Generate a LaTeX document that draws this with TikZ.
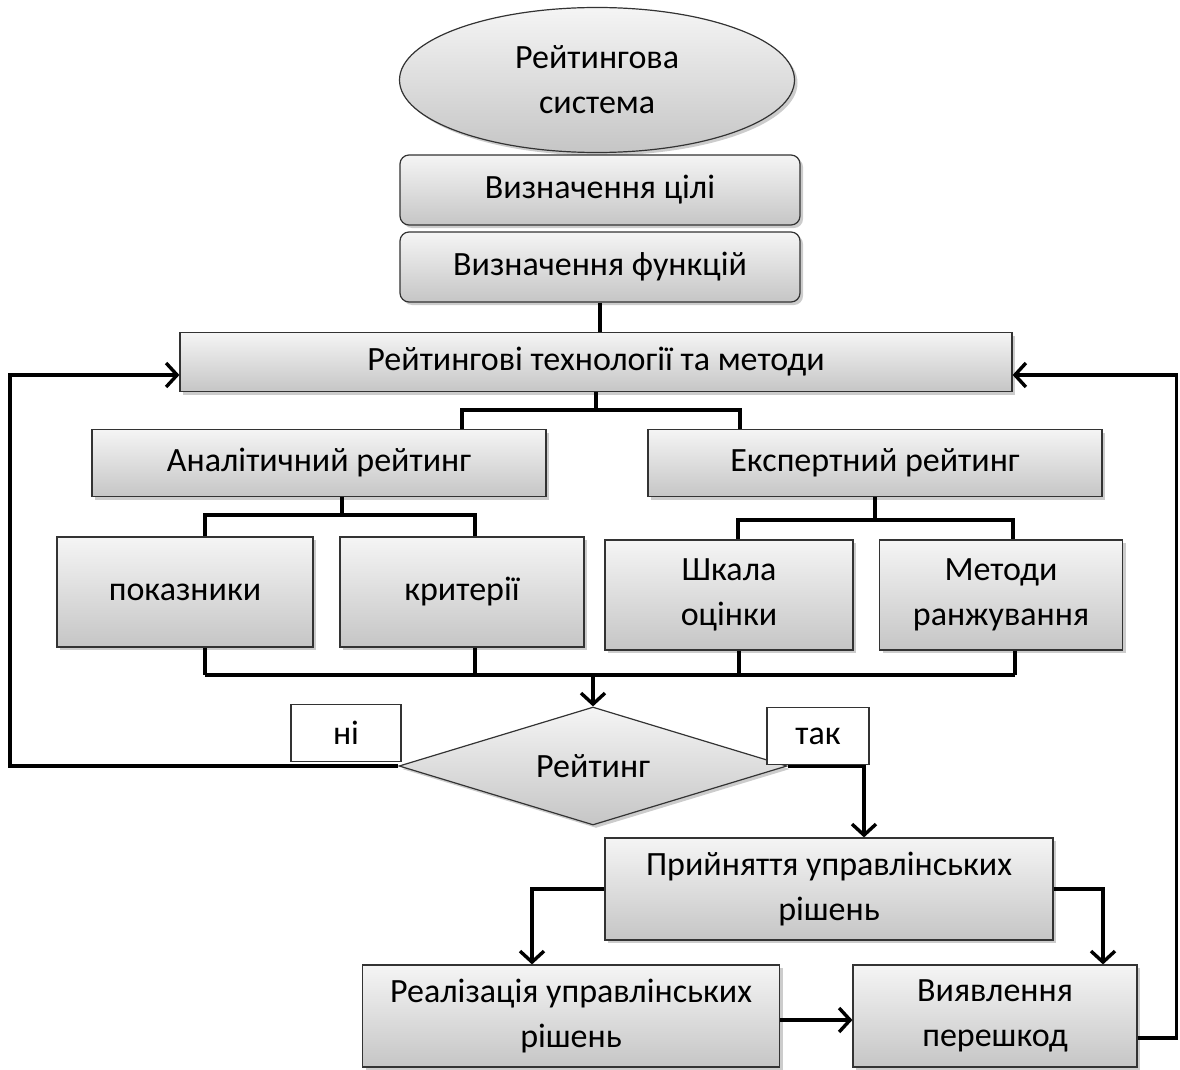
\documentclass[tikz,border=0pt]{standalone}
\usepackage{fontspec}
\setmainfont{Carlito}
\usetikzlibrary{shapes.geometric, arrows.meta, shadows}

\tikzset{every node/.style={font=\fontsize{34}{45}\selectfont, align=center, inner sep=0pt}}

\begin{document}
\begin{tikzpicture}[x=1pt, y=-1pt,
			box/.style={rectangle, draw=black!80, line width=1.2pt, top color=gray!8, bottom color=gray!45,
				drop shadow={shadow xshift=3pt, shadow yshift=-3pt, fill=black!40, opacity=0.5}},
			rbox/.style={box, rounded corners=9pt},
			oval/.style={box, ellipse},
			decision/.style={box, diamond, aspect=3.3},
			tag/.style={rectangle, draw=black!80, line width=1.2pt, fill=white},
			line/.style={line width=3.4pt, black},
			arr/.style={line, -{Straight Barb[length=11pt, width=24pt, line width=3.4pt]}},
			]
			\useasboundingbox (0,0) rectangle (1180,1070);
			
			% Top of the scheme
			\node[oval, minimum width=395pt, minimum height=145pt] (sys) at (597,80) {Рейтингова\\система};
			\node[rbox, minimum width=400pt, minimum height=70pt] (goal) at (600,190) {Визначення цілі};
			\node[rbox, minimum width=400pt, minimum height=70pt] (funcs) at (600,267) {Визначення функцій};
			\node[box, minimum width=832pt, minimum height=59pt] (tech) at (596,362) {Рейтингові технології та методи};
			
			% Two kinds of rating
			\node[box, minimum width=454pt, minimum height=67pt] (anal) at (319,463) {Аналітичний рейтинг};
			\node[box, minimum width=454pt, minimum height=67pt] (expert) at (875,463) {Експертний рейтинг};
			
			\node[box, minimum width=256pt, minimum height=110pt] (ind) at (185,592) {показники};
			\node[box, minimum width=244pt, minimum height=110pt] (crit) at (462,592) {критерії};
			\node[box, minimum width=248pt, minimum height=110pt] (scale) at (729,595) {Шкала\\оцінки};
			\node[box, minimum width=243pt, minimum height=110pt] (rank) at (1001,595) {Методи\\ранжування};
			
			% Decision and what follows
			\node[decision, minimum width=388pt, minimum height=118pt] (rating) at (593,766) {Рейтинг};
			\node[box, minimum width=448pt, minimum height=102pt] (decide) at (829,889) {Прийняття управлінських\\рішень};
			\node[box, minimum width=417pt, minimum height=102pt] (impl) at (571,1016) {Реалізація управлінських\\рішень};
			\node[box, minimum width=284pt, minimum height=102pt] (obst) at (995,1016) {Виявлення\\перешкод};
			
			\coordinate (busL) at (205,675);
			\coordinate (busR) at (1015,675);
			\coordinate (lft) at (10,0);
			
			% Tree connections
			\draw[line] (funcs.south) -- (funcs.south |- tech.north);
			\draw[line] (tech.south) -- ++(0,18) -| ([xshift=143pt]anal.north);
			\draw[line] (tech.south) ++(0,18) -| ([xshift=-135pt]expert.north);
			\draw[line] ([xshift=23pt]anal.south) -- ++(0,18) -| ([xshift=20pt]ind.north);
			\draw[line] ([xshift=23pt]anal.south) ++(0,18) -| ([xshift=13pt]crit.north);
			\draw[line] (expert.south) -- ++(0,23) -| ([xshift=9pt]scale.north);
			\draw[line] (expert.south) ++(0,23) -| ([xshift=12pt]rank.north);
			
			% Collecting bus
			\draw[line] (busL) -- (busR);
			\foreach \n/\dx in {ind/20,crit/13,scale/10,rank/14} {
				\draw[line] ([xshift=\dx pt]\n.south) coordinate (t) -- (t |- busL);
			}
			\draw[arr] (busL -| rating.north) -- (rating.north);
			
			% Feedback loops
			\draw[arr] (rating.west) -- (rating.west -| lft) |- ([yshift=-13pt]tech.west);
			\draw[arr] ([yshift=-22pt]obst.east) -- ++(39,0) |- ([yshift=-13pt]tech.east);
			
			\draw[arr] (rating.east) -| ([xshift=35pt]decide.north);
			\draw[arr] (decide.west) -| ([xshift=-39pt]impl.north);
			\draw[arr] (decide.east) -| ([xshift=108pt]obst.north);
			\draw[arr] ([yshift=-4pt]impl.east) -- ([yshift=-4pt]obst.west);
			
			% Answer labels
			\node[tag, minimum width=110pt, minimum height=57pt] (no) at (346,733) {ні};
			\node[tag, minimum width=102pt, minimum height=57pt] (yes) at (818,736) {так};
			
		\end{tikzpicture}
\end{document}
